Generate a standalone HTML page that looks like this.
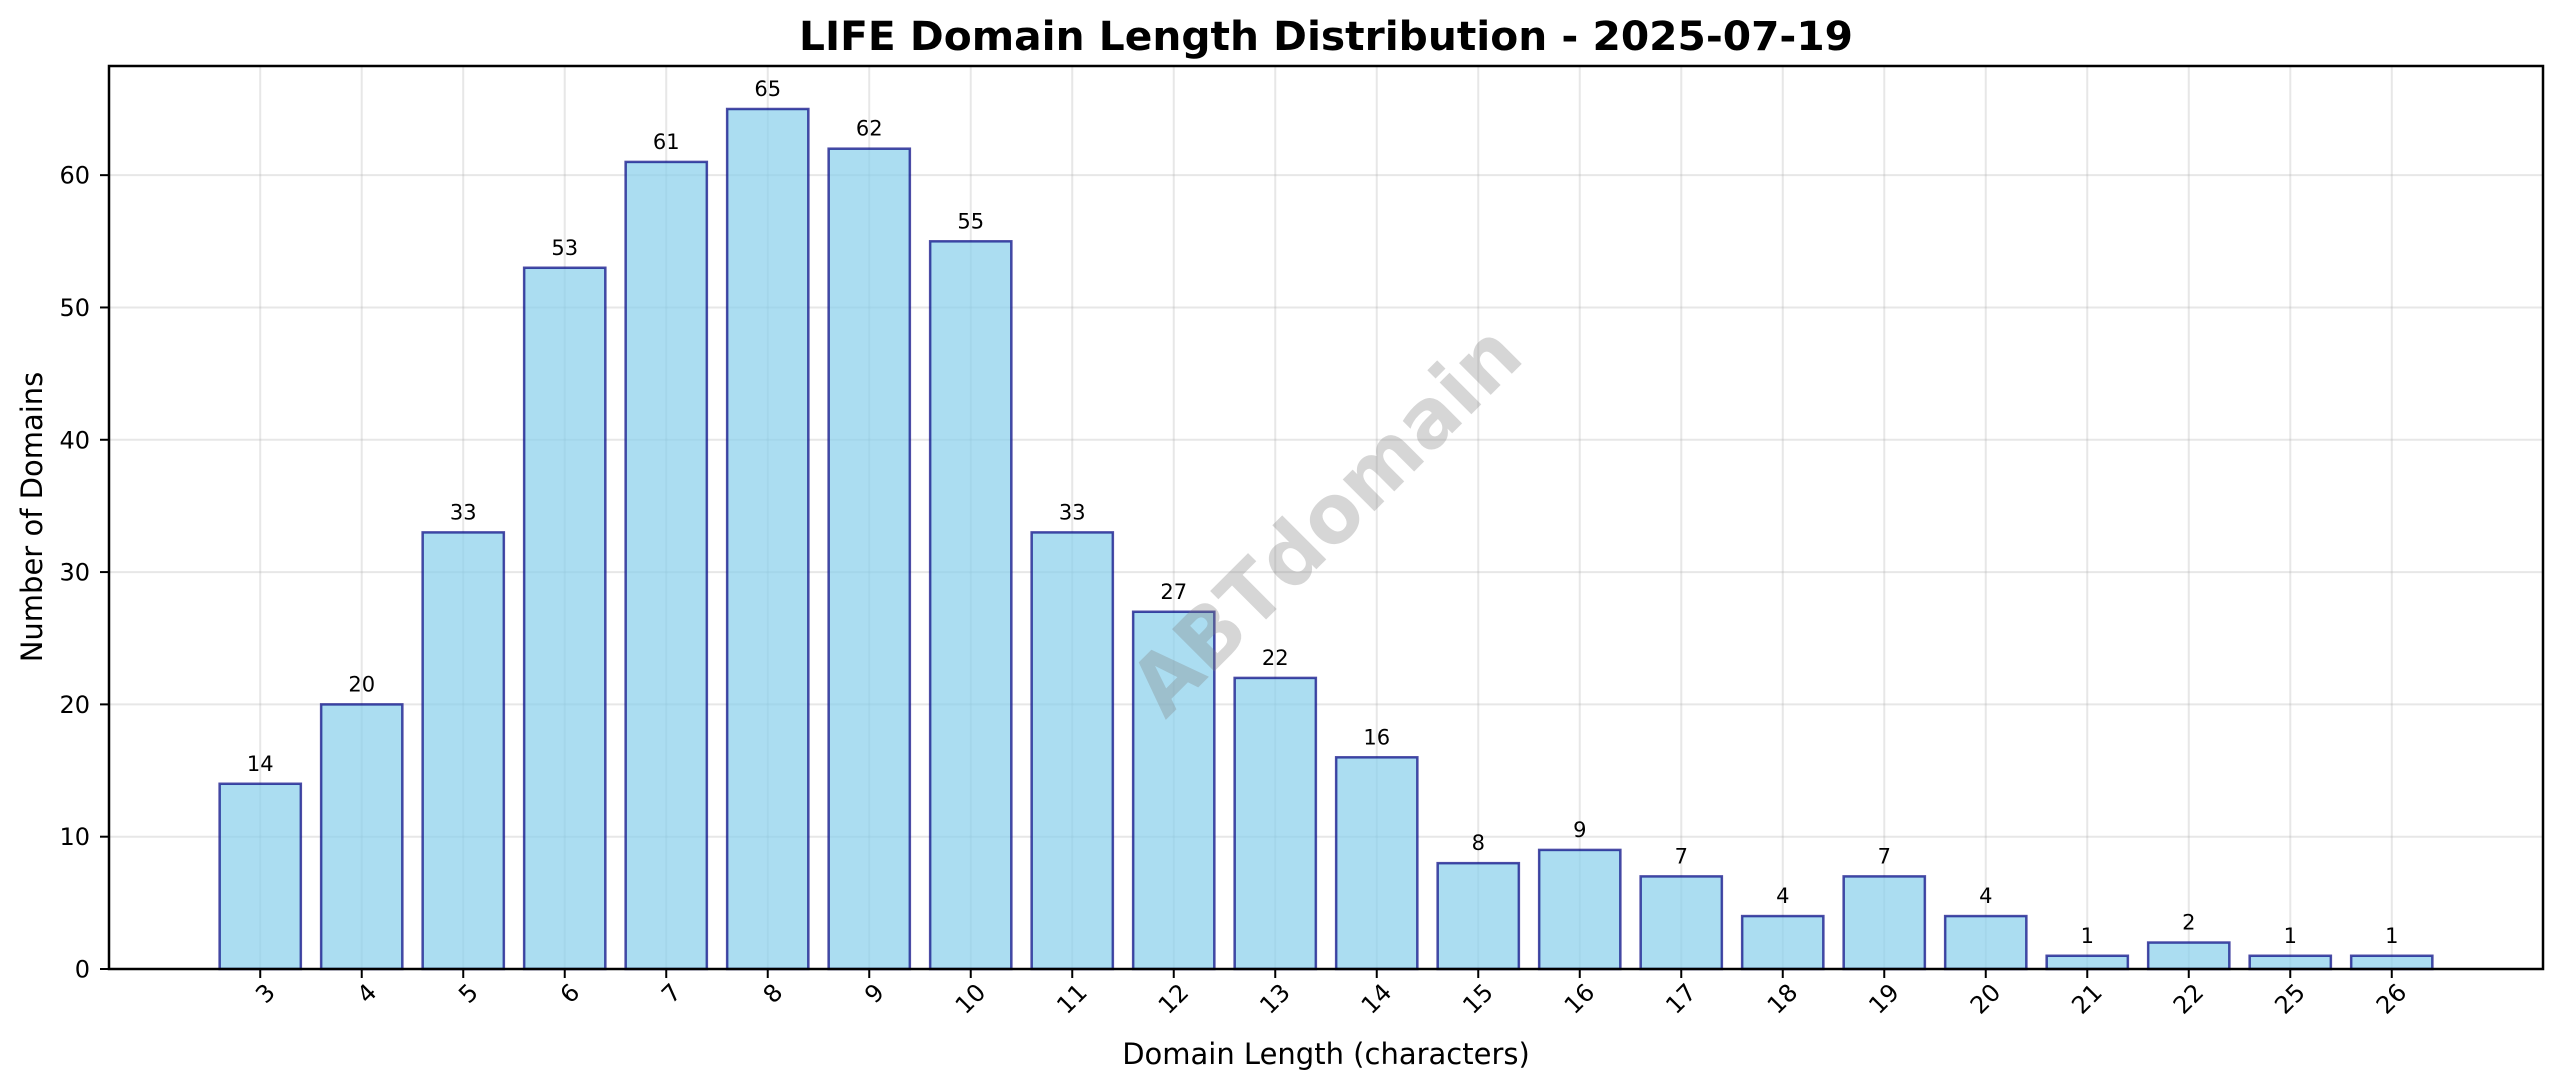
<!DOCTYPE html>
<html><head><meta charset="utf-8"><style>
html,body{margin:0;padding:0;background:#fff;}
svg{display:block;font-family:"DejaVu Sans","Liberation Sans",sans-serif;}
</style></head><body>
<svg id="chart" width="2560" height="1087" viewBox="0 0 2560 1087" xmlns="http://www.w3.org/2000/svg">
<rect width="2560" height="1087" fill="#fff"/>
<text x="1326" y="50" text-anchor="middle" font-size="40" font-weight="bold" textLength="1054" lengthAdjust="spacingAndGlyphs">LIFE Domain Length Distribution - 2025-07-19</text>
<g id="grid"></g>
<g id="bars"></g>
<text x="1326" y="548" text-anchor="middle" font-size="82" font-weight="bold" fill="#808080" fill-opacity="0.32" transform="rotate(-45 1326 520)" textLength="510" lengthAdjust="spacingAndGlyphs">ABTdomain</text>
<g id="axes"></g>
<text x="1326" y="1064" text-anchor="middle" font-size="29">Domain Length (characters)</text>
<text x="42" y="517" text-anchor="middle" font-size="29" transform="rotate(-90 42 517)">Number of Domains</text>
</svg>
<script>
const categories = ["3","4","5","6","7","8","9","10","11","12","13","14","15","16","17","18","19","20","21","22","25","26"];
const counts = [14,20,33,53,61,65,62,55,33,27,22,16,8,9,7,4,7,4,1,2,1,1];
const yTicks = [0,10,20,30,40,50,60];

const NS = "http://www.w3.org/2000/svg";
const L = 109, R = 2543, T = 66, B = 969;
const n = categories.length;
const xMin = -0.5 - 0.8/2 - 0.05*(n - 1 + 0.8) + 0.4, xMax = n - 1 + 0.4 + 0.05*(n - 1 + 0.8);
const xLo = -0.4 - 0.05*(n - 1 + 0.8);
function xs(i){ return L + (i - xLo) / (xMax - xLo) * (R - L); }
const yMax = Math.max(...counts) * 1.05;
function ys(v){ return B - v / yMax * (B - T); }
function mk(tag, attrs, parent){ const e = document.createElementNS(NS, tag); for (const k in attrs) e.setAttribute(k, attrs[k]); parent.appendChild(e); return e; }

const grid = document.getElementById('grid');
const bars = document.getElementById('bars');
const axes = document.getElementById('axes');
const step = xs(1) - xs(0);
const bw = step * 0.8;

categories.forEach((c, i) => {
  const gl = mk('line', {x1: xs(i), x2: xs(i), y1: T, y2: B, stroke: '#b0b0b0', 'stroke-opacity': 0.3, 'stroke-width': 2}, grid);
  
  
});
yTicks.forEach(v => {
  const gl = mk('line', {x1: L, x2: R, y1: ys(v), y2: ys(v), stroke: '#b0b0b0', 'stroke-opacity': 0.3, 'stroke-width': 2}, grid);
  
  
});

counts.forEach((v, i) => {
  const r = mk('rect', {x: xs(i) - bw/2, y: ys(v), width: bw, height: B - ys(v), fill: '#87ceeb', 'fill-opacity': 0.7, stroke: '#000080', 'stroke-opacity': 0.7, 'stroke-width': 2.5}, bars);
  
  
  const t = mk('text', {x: xs(i), y: ys(v) - 13, 'text-anchor': 'middle', 'font-size': 21}, bars);
  t.textContent = v;
  
  
});

const frame = mk('rect', {x: L, y: T, width: R - L, height: B - T, fill: 'none', stroke: '#000', 'stroke-width': 2.5}, axes);



yTicks.forEach(v => {
  const tk = mk('line', {x1: L - 9, x2: L, y1: ys(v), y2: ys(v), stroke: '#000', 'stroke-width': 2}, axes);
  
  
  const t = mk('text', {x: L - 19, y: ys(v) + 8.5, 'text-anchor': 'end', 'font-size': 24}, axes);
  t.textContent = v;
  
  
});

categories.forEach((c, i) => {
  const x = xs(i);
  const tk = mk('line', {x1: x, x2: x, y1: B, y2: B + 9, stroke: '#000', 'stroke-width': 2}, axes);
  
  
  const ay = B + 17;
  const t = mk('text', {x: x + 8, y: ay + 8, 'text-anchor': 'end', 'font-size': 24, transform: `rotate(-45 ${x} ${ay})`}, axes);
  t.setAttribute('dominant-baseline', 'middle');
  t.setAttribute('x', x + 6);
  t.setAttribute('y', ay + 10);
  t.textContent = c;
  
  
});
</script>
</body></html>
